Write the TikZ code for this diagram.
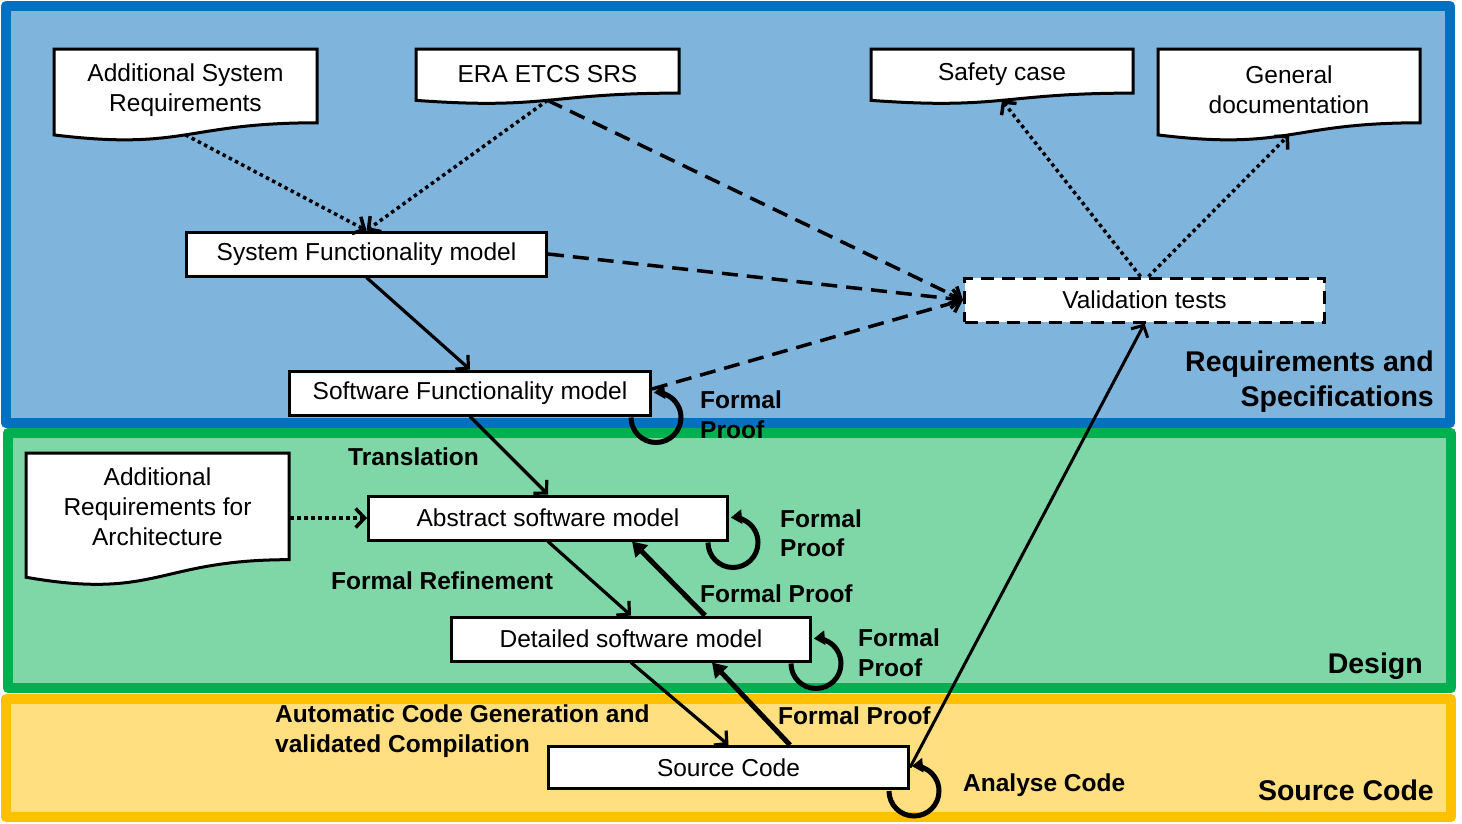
\documentclass[tikz,border=0pt]{standalone}
\usepackage{fontspec}
\setmainfont{Liberation Sans}
\usetikzlibrary{arrows.meta,calc}
\definecolor{bluebd}{RGB}{0,112,192}
\definecolor{bluefill}{RGB}{127,181,221}
\definecolor{greenbd}{RGB}{0,176,80}
\definecolor{greenfill}{RGB}{127,215,167}
\definecolor{yellowbd}{RGB}{255,192,0}
\definecolor{yellowfill}{RGB}{255,223,128}
\newcommand\dgnodefont{\fontsize{24.5}{30}\selectfont}
\newcommand\dglblfont{\bfseries\fontsize{24.5}{29.5}\selectfont}
\newcommand\dgregfont{\bfseries\fontsize{28.5}{35}\selectfont}
% #1 name, #2 left, #3 top, #4 right, #5 height, #6 text centre y, #7 text
\newcommand\docshape[7]{%
  \draw[docbox] (#2,#3) -- (#4,#3) -- (#4,{#3+0.802*#5})
    .. controls ({(#2+#4)/2},{#3+0.802*#5}) and ({(#2+#4)/2},{#3+1.1075*#5}) .. (#2,{#3+0.934*#5}) -- cycle;
  \coordinate (#1-b) at ({(#2+#4)/2},{#3+0.933*#5});
  \node[doctext] (#1) at ({(#2+#4)/2},#6) {#7};
}
\begin{document}
\begin{tikzpicture}[x=1pt,y=-1pt,
  region/.style={line width=10pt, line join=round},
  box/.style={draw, fill=white, line width=3pt, minimum height=44pt, inner sep=0pt, font=\dgnodefont},
  dashbox/.style={dash pattern=on 13pt off 8pt},
  docbox/.style={draw, fill=white, line width=3pt, line join=miter},
  doctext/.style={align=center, inner sep=0pt, font=\dgnodefont},
  lbl/.style={font=\dglblfont, inner sep=0pt, align=left, anchor=west},
  reg/.style={font=\dgregfont, inner sep=0pt, align=right, anchor=east},
  openhead/.style={-{Straight Barb[length=9pt,width=19pt]}},
  dotarrow/.style={line width=3.5pt, dash pattern=on 3.5pt off 3.5pt, openhead},
  dasharrow/.style={line width=3.5pt, dash pattern=on 16pt off 9pt, openhead},
  thinarrow/.style={line width=3.2pt, openhead},
  thickarrow/.style={line width=5pt, -{Triangle[length=14pt,width=17pt]}},
  looparrow/.style={line width=5pt, -{Triangle[length=11pt,width=14pt]}}]
\useasboundingbox (0,0) rectangle (1462,823);
\fill[white] (0,0) rectangle (1462,823);
% regions
\draw[region, draw=bluebd, fill=bluefill] (6,6) rectangle (1450,423);
\draw[region, draw=greenbd, fill=greenfill] (8,433) rectangle (1451,688);
\draw[region, draw=yellowbd, fill=yellowfill] (6,699) rectangle (1451,817);
% documents
\docshape{asr}{54}{49}{317}{92}{90}{Additional System\\Requirements}
\docshape{era}{416}{49}{679}{55}{74}{ERA ETCS SRS}
\docshape{safe}{871}{49}{1133}{55}{74}{Safety case}
\docshape{gen}{1158}{49}{1420}{92}{90}{General\\documentation}
\docshape{ara}{26}{453}{289}{133}{507}{Additional\\Requirements for\\Architecture}
\coordinate (ara-r) at (290,518);
% boxes
\node[box, minimum width=360pt] (sys) at (366.5,254) {System Functionality model};
\node[box, minimum width=361pt] (soft) at (470,393) {Software Functionality model};
\node[box, dashbox, minimum width=360pt] (val) at (1144.5,300) {Validation tests};
\node[box, minimum width=359pt] (abs) at (548,518) {Abstract software model};
\node[box, minimum width=359pt] (det) at (631,639) {Detailed software model};
\node[box, minimum width=360pt, minimum height=42pt] (src) at (728.5,767.5) {Source Code};
% connectors
\draw[dotarrow] (asr-b) -- (sys.north);
\draw[dotarrow] (era-b) -- (sys.north);
\draw[dasharrow] (era-b) -- (val.west);
\draw[dasharrow] (sys.east) -- (val.west);
\draw[dasharrow] ([yshift=4pt]soft.east) -- (val.west);
\draw[dotarrow] ([xshift=-4pt]val.north) -- (safe-b);
\draw[dotarrow] ([xshift=4pt]val.north) -- (gen-b);
\draw[dotarrow] (ara-r) -- (abs.west);
\draw[thinarrow] (sys.south) -- (soft.north);
\draw[thinarrow] (soft.south) -- (abs.north);
\draw[thinarrow] (abs.south) -- (det.north);
\draw[thinarrow] (det.south) -- (src.north);
\draw[thickarrow] ([xshift=74pt]det.north) -- ([xshift=84pt]abs.south);
\draw[thickarrow] ([xshift=61.5pt]src.north) -- ([xshift=81pt]det.south);
\draw[line width=3pt, openhead] (src.east) -- (val.south);
% self loops (formal proof / analyse)
\draw[looparrow] ([shift={(-21,1)}]soft.south east) arc[start angle=180, end angle=455, radius=25pt];
\draw[looparrow] ([shift={(-21,1)}]abs.south east) arc[start angle=180, end angle=455, radius=25pt];
\draw[looparrow] ([shift={(-21,1)}]det.south east) arc[start angle=180, end angle=455, radius=25pt];
\draw[looparrow] ([shift={(-21,1)}]src.south east) arc[start angle=180, end angle=455, radius=25pt];
% labels
\node[lbl] (fp1) at (700,414.5) {Formal\\Proof};
\node[lbl] (fp2) at (780,533) {Formal\\Proof};
\node[lbl] (fp3) at (700,594) {Formal Proof};
\node[lbl] (fp4) at (858,652.5) {Formal\\Proof};
\node[lbl] (fp5) at (778,716) {Formal Proof};
\node[lbl] (ac) at (963,785) {Analyse Code};
\node[lbl] (tr) at (348,457) {Translation};
\node[lbl] (fr) at (331,581) {Formal Refinement};
\node[lbl] (acg) at (275,731) {Automatic Code Generation and\\validated Compilation};
\node[reg] (rs) at (1434,382) {Requirements and\\Specifications};
\node[reg] (ds) at (1423,666) {Design};
\node[reg] (sc) at (1434,790) {Source Code};
\end{tikzpicture}
\end{document}
